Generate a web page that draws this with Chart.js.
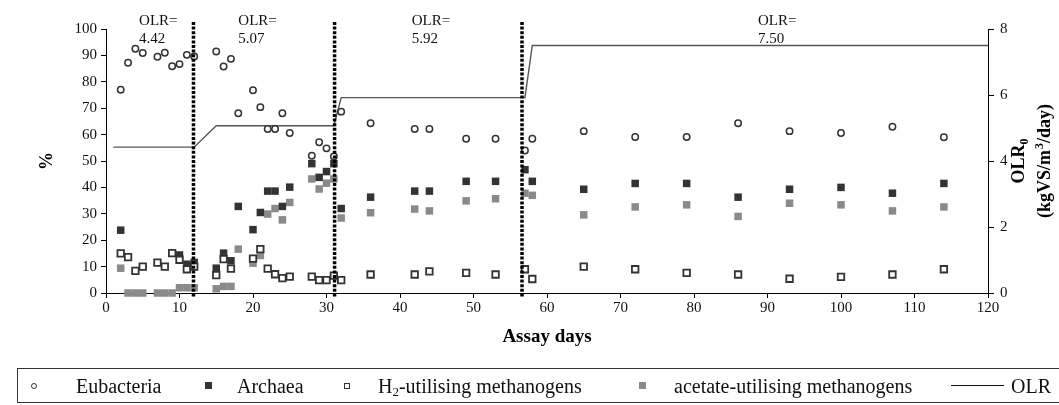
<!DOCTYPE html>
<html>
<head>
<meta charset="utf-8">
<script src="https://cdn.jsdelivr.net/npm/chart.js@4.4.1/dist/chart.umd.min.js"></script>
<style>
  html, body { margin: 0; padding: 0; background: #fff; }
  body { width: 1059px; height: 405px; overflow: hidden; position: relative; font-family: "Liberation Serif", "Times New Roman", serif; }
  #wrap { position: absolute; left: 0; top: 0; width: 1059px; height: 405px; }
  #legend { position: absolute; left: 17px; top: 368px; width: 1100px; height: 35px; border: 1px solid #333; box-sizing: border-box; font-size: 20px; color: #111; }
  #legend .mk, #legend .tx { position: absolute; }
  #legend .tx { top: 50%; transform: translateY(-52%); white-space: nowrap; line-height: 1; }
  #legend sub { font-size: 13px; vertical-align: -3px; line-height: 0; }
</style>
</head>
<body>
<div id="wrap"><canvas id="chart"></canvas></div>
<div id="legend"></div>
<script>
// sampling days and the four populations (%)
const days = [2, 3, 4, 5, 7, 8, 9, 10, 11, 12, 15, 16, 17, 18, 20, 21, 22, 23, 24, 25,
              28, 29, 30, 31, 32, 36, 42, 44, 49, 53, 57, 58, 65, 72, 79, 86, 93, 100, 107, 114];
const eubacteria = [77.0, 87.2, 92.5, 90.9, 89.5, 91.0, 85.9, 86.7, 90.2, 89.6, 91.5, 85.8, 88.7, 68.1, 76.8, 70.4, 62.1, 62.1, 68.1, 60.6,
                    52.0, 57.1, 54.8, 51.7, 68.7, 64.3, 62.1, 62.1, 58.4, 58.4, 54.0, 58.4, 61.3, 59.1, 59.1, 64.3, 61.3, 60.6, 63.0, 59.0];
const archaea = [23.8, null, null, null, null, null, null, 14.4, 10.9, 11.6, 9.4, 15.1, 12.2, 32.8, 24.0, 30.5, 38.6, 38.6, 32.8, 40.1,
                 49.0, 43.8, 46.0, 49.0, 32.0, 36.3, 38.6, 38.6, 42.3, 42.3, 46.7, 42.3, 39.3, 41.5, 41.5, 36.3, 39.3, 40.0, 37.8, 41.5];
const h2Methanogens = [15.0, 13.6, 8.4, 10.0, 11.5, 10.0, 15.1, 12.6, 9.0, 10.0, 6.8, 12.8, 9.2, null, 13.0, 16.6, 9.2, 7.1, 5.6, 6.2,
                       6.2, 4.9, 4.9, 6.6, 4.9, 7.0, 7.0, 8.2, 7.6, 7.0, 9.0, 5.3, 10.0, 9.0, 7.6, 7.0, 5.4, 6.1, 7.0, 9.0];
const acetateMethanogens = [9.4, 0, 0, 0, 0, 0, 0, 2.0, 2.0, 2.0, 1.6, 2.5, 2.5, 16.6, 11.3, 14.2, 29.9, 32.0, 27.7, 34.3,
                            43.2, 39.4, 41.6, 43.2, 28.4, 30.4, 31.8, 31.1, 34.9, 35.7, 37.8, 37.0, 29.6, 32.6, 33.4, 29.0, 34.0, 33.4, 31.1, 32.6];

// organic loading rate (kgVS/m3/day)
const olrDays = [1, 12, 15, 31, 32, 57, 58, 120];
const olrValues = [4.42, 4.42, 5.07, 5.07, 5.92, 5.92, 7.50, 7.50];
const olrChangeDays = [11.9, 31.1, 56.6];
const olrLabels = ['4.42', '5.07', '5.92', '7.50'];
const olrLabelDays = [4.5, 18.0, 41.6, 88.7];

const seriesNames = ['Eubacteria', 'Archaea', 'H2-utilising methanogens', 'acetate-utilising methanogens', 'OLR'];

const serif = '"Liberation Serif", "Times New Roman", serif';
const dark = '#333333', grey = '#8a8a8a';

const pts = vals => days.map((d, i) => ({x: d, y: vals[i]})).filter(p => p.y !== null);

const overlay = {
  id: 'overlay',
  afterDatasetsDraw(chart) {
    const {ctx, chartArea: a, scales: {x}} = chart;
    ctx.save();
    ctx.strokeStyle = '#000';
    ctx.lineWidth = 3.5;
    ctx.setLineDash([3, 1.6]);
    olrChangeDays.forEach(d => {
      const px = x.getPixelForValue(d);
      ctx.beginPath();
      ctx.moveTo(px, a.top - 7);
      ctx.lineTo(px, a.bottom + 4);
      ctx.stroke();
    });
    ctx.setLineDash([]);
    ctx.fillStyle = '#111';
    ctx.font = '15px ' + serif;
    ctx.textAlign = 'left';
    ctx.textBaseline = 'middle';
    olrLabelDays.forEach((d, i) => {
      const px = x.getPixelForValue(d);
      ctx.fillText('OLR=', px, a.top - 8);
      ctx.fillText(olrLabels[i], px, a.top + 10);
    });
    ctx.restore();
  },
  afterDraw(chart) {
    const {ctx, chartArea: a} = chart;
    const midY = (a.top + a.bottom) / 2;
    ctx.save();
    ctx.fillStyle = '#000';
    // x title
    ctx.font = 'bold 19px ' + serif;
    ctx.textAlign = 'center';
    ctx.textBaseline = 'middle';
    ctx.fillText('Assay days', (a.left + a.right) / 2, a.bottom + 44);
    // left title
    ctx.save();
    ctx.translate(47, midY);
    ctx.rotate(-Math.PI / 2);
    ctx.font = 'bold 18px ' + serif;
    ctx.fillText('%', 0, 0);
    ctx.restore();
    // right title, two lines with sub/superscript
    ctx.save();
    ctx.translate(1024, midY);
    ctx.rotate(-Math.PI / 2);
    ctx.textAlign = 'left';
    ctx.textBaseline = 'alphabetic';
    const big = 'bold 18px ' + serif, small = 'bold 12px ' + serif;
    ctx.font = big;
    let w1 = ctx.measureText('OLR').width;
    ctx.font = small;
    let w2 = ctx.measureText('0').width;
    let sx = -(w1 + w2) / 2;
    ctx.font = big; ctx.fillText('OLR', sx, 0);
    ctx.font = small; ctx.fillText('0', sx + w1, 4);
    ctx.restore();
    ctx.save();
    ctx.translate(1050, midY);
    ctx.rotate(-Math.PI / 2);
    ctx.textAlign = 'left';
    ctx.textBaseline = 'alphabetic';
    ctx.font = big;
    const pa = '(kgVS/m', pb = '/day)';
    const wa = ctx.measureText(pa).width, wb = ctx.measureText(pb).width;
    ctx.font = small;
    const ws = ctx.measureText('3').width + 1;
    sx = -(wa + ws + wb) / 2;
    ctx.font = big; ctx.fillText(pa, sx, 0);
    ctx.font = small; ctx.fillText('3', sx + wa + 1, -7);
    ctx.font = big; ctx.fillText(pb, sx + wa + ws, 0);
    ctx.restore();
    ctx.restore();
  }
};

const tickFont = {family: serif, size: 15};
const axisGrid = {drawOnChartArea: false, color: '#000', tickLength: 5, lineWidth: 1};

new Chart(document.getElementById('chart'), {
  type: 'scatter',
  data: {
    datasets: [
      {label: seriesNames[0], data: pts(eubacteria), yAxisID: 'y', pointStyle: 'circle', pointRadius: 3.2,
       borderColor: dark, backgroundColor: '#fff', borderWidth: 1.5, clip: false, order: 1},
      {label: seriesNames[1], data: pts(archaea), yAxisID: 'y', pointStyle: 'rect', pointRadius: 5.3,
       borderColor: dark, backgroundColor: dark, borderWidth: 0, clip: false, order: 3},
      {label: seriesNames[2], data: pts(h2Methanogens), yAxisID: 'y', pointStyle: 'rect', pointRadius: 4.6,
       borderColor: dark, backgroundColor: '#fff', borderWidth: 1.8, clip: false, order: 2},
      {label: seriesNames[3], data: pts(acetateMethanogens), yAxisID: 'y', pointStyle: 'rect', pointRadius: 5.3,
       borderColor: grey, backgroundColor: grey, borderWidth: 0, clip: false, order: 4},
      {label: seriesNames[4], type: 'line', data: olrDays.map((d, i) => ({x: d, y: olrValues[i]})), yAxisID: 'y1',
       borderColor: '#555', borderWidth: 1.4, pointRadius: 0, tension: 0, fill: false, order: 5}
    ]
  },
  options: {
    responsive: true,
    maintainAspectRatio: false,
    animation: false,
    layout: {padding: {top: 29, bottom: 82, left: 0, right: 0}},
    plugins: {legend: {display: false}, tooltip: {enabled: false}},
    scales: {
      x: {
        type: 'linear', min: 0, max: 120,
        ticks: {stepSize: 10, font: tickFont, color: '#111', padding: 1, maxRotation: 0},
        grid: axisGrid, border: {color: '#000', width: 1},
        afterFit: s => { s.height = 30; }
      },
      y: {
        position: 'left', min: 0, max: 100,
        ticks: {stepSize: 10, font: tickFont, color: '#111', padding: 4},
        grid: axisGrid, border: {color: '#000', width: 1},
        afterFit: s => { s.width = 106; }
      },
      y1: {
        position: 'right', min: 0, max: 8,
        ticks: {stepSize: 2, font: tickFont, color: '#111', padding: 6},
        grid: Object.assign({}, axisGrid, {tickLength: 6}), border: {color: '#000', width: 1},
        afterFit: s => { s.width = 71; }
      }
    }
  },
  plugins: [overlay]
});

// legend with the subscript in H2
const legendSlots = [
  {marker: 16, text: 58}, {marker: 190, text: 219}, {marker: 329, text: 360}, {marker: 624, text: 656}, {marker: 960, text: 993}
];
const legendEl = document.getElementById('legend');
seriesNames.forEach((name, i) => {
  const slot = legendSlots[i];
  const mk = document.createElement('div');
  mk.className = 'mk';
  let st;
  if (i === 0) st = 'width:4px;height:4px;border:1.5px solid ' + dark + ';border-radius:50%;background:#fff;';
  else if (i === 1) st = 'width:7px;height:7px;background:' + dark + ';';
  else if (i === 2) st = 'width:4px;height:4px;border:1.6px solid ' + dark + ';background:#fff;';
  else if (i === 3) st = 'width:7px;height:7px;background:' + grey + ';';
  else st = 'width:53px;height:0;border-top:1px solid #111;';
  mk.style.cssText = st;
  legendEl.appendChild(mk);
  const w = mk.offsetWidth, h = mk.offsetHeight;
  const cx = i === 4 ? slot.marker - 27 + w / 2 : slot.marker;
  mk.style.left = (cx - w / 2) + 'px';
  mk.style.top = (16.5 - h / 2) + 'px';
  const tx = document.createElement('div');
  tx.className = 'tx';
  tx.style.left = slot.text + 'px';
  tx.innerHTML = name.replace('H2', 'H<sub>2</sub>');
  legendEl.appendChild(tx);
});
</script>
</body>
</html>
